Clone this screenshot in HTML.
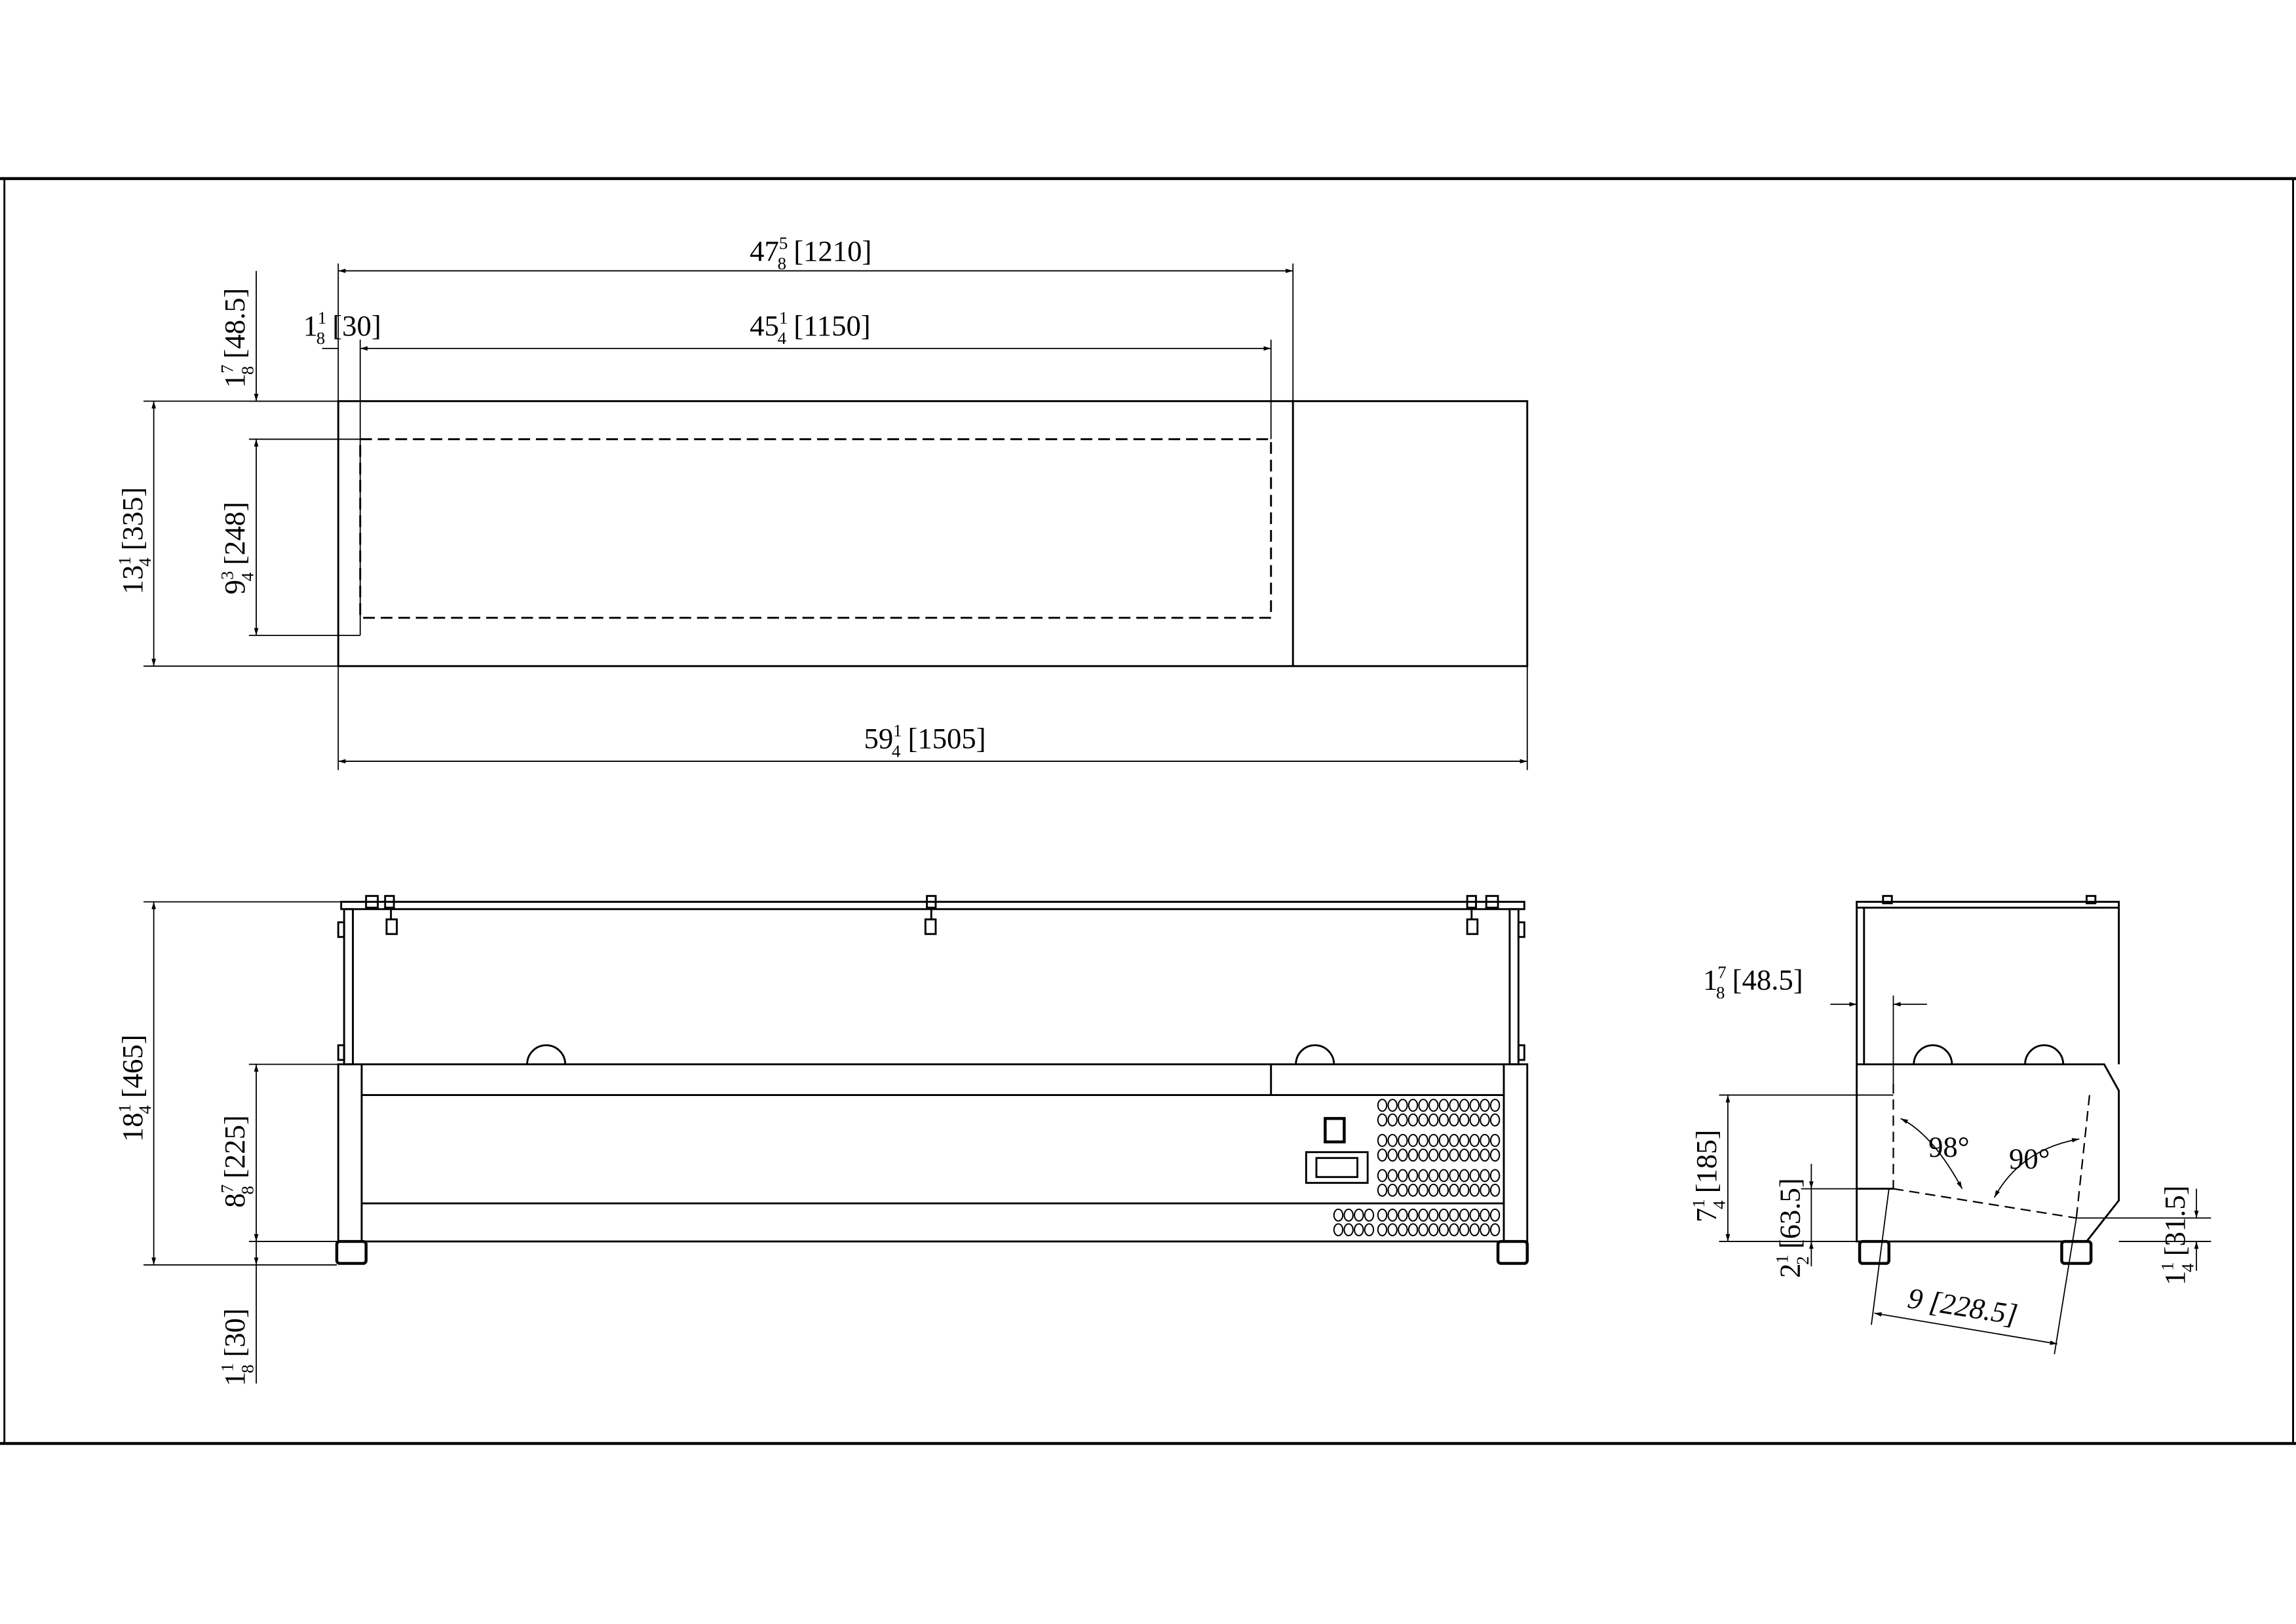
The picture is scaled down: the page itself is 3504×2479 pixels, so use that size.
<!DOCTYPE html>
<html><head><meta charset="utf-8"><style>
html,body{margin:0;padding:0;background:#fff}
svg{display:block}
text{font-family:"Liberation Sans Narrow","Liberation Serif",serif;fill:#000}
</style></head><body>
<svg width="3504" height="2479" viewBox="0 0 1568 1109.3" xmlns="http://www.w3.org/2000/svg">
<defs>
<marker id="a" viewBox="0 0 10 10" refX="10" refY="5" markerWidth="9" markerHeight="5" orient="auto-start-reverse" markerUnits="userSpaceOnUse"><path d="M0,2 L10,5 L0,8 z" fill="#000"/></marker>
</defs>
<g stroke="#000" fill="none" stroke-width="1.3">
<line x1="0" y1="122" x2="1568" y2="122" stroke-width="2"/>
<line x1="0" y1="986" x2="1568" y2="986" stroke-width="2"/>
<line x1="3" y1="122" x2="3" y2="986"/>
<line x1="1566" y1="122" x2="1566" y2="986"/>

<rect x="231" y="274" width="812" height="181"/>
<line x1="883" y1="274" x2="883" y2="455"/>
<rect x="246" y="300" width="622" height="122" stroke-dasharray="8,4"/>
<g stroke-width="0.8">
<line x1="231" y1="180" x2="231" y2="274"/><line x1="883" y1="180" x2="883" y2="274"/>
<line x1="231" y1="185" x2="883" y2="185" marker-start="url(#a)" marker-end="url(#a)"/>
<line x1="246" y1="232" x2="246" y2="434"/><line x1="868" y1="232" x2="868" y2="300"/>
<line x1="246" y1="238" x2="868" y2="238" marker-start="url(#a)" marker-end="url(#a)"/>
<line x1="220" y1="238" x2="231" y2="238"/>
<line x1="231" y1="455" x2="231" y2="526"/><line x1="1043" y1="455" x2="1043" y2="526"/>
<line x1="231" y1="520" x2="1043" y2="520" marker-start="url(#a)" marker-end="url(#a)"/>
<line x1="98" y1="274" x2="231" y2="274"/><line x1="98" y1="455" x2="231" y2="455"/>
<line x1="105" y1="274" x2="105" y2="455" marker-start="url(#a)" marker-end="url(#a)"/>
<line x1="170" y1="300" x2="246" y2="300"/><line x1="170" y1="434" x2="246" y2="434"/>
<line x1="175" y1="300" x2="175" y2="434" marker-start="url(#a)" marker-end="url(#a)"/>
<line x1="175" y1="185" x2="175" y2="274" marker-end="url(#a)"/>
<line x1="170" y1="274" x2="231" y2="274"/>
</g>

<rect x="233" y="616" width="808" height="5"/>
<rect x="235" y="621" width="6" height="106"/><rect x="1031" y="621" width="6" height="106"/>
<rect x="231" y="630" width="4" height="10"/><rect x="1037" y="630" width="4" height="10"/>
<rect x="231" y="714" width="4" height="10"/><rect x="1037" y="714" width="4" height="10"/>
<rect x="250" y="612" width="8" height="8"/><rect x="263" y="612" width="6" height="8"/><rect x="264" y="628" width="7" height="10"/>
<rect x="1002" y="612" width="6" height="8"/><rect x="1015" y="612" width="8" height="8"/><rect x="1002" y="628" width="7" height="10"/>
<rect x="633" y="612" width="6" height="8"/><rect x="632" y="628" width="7" height="10"/>
<line x1="636" y1="620" x2="636" y2="628"/><line x1="267" y1="620" x2="267" y2="628"/><line x1="1005" y1="620" x2="1005" y2="628"/>
<rect x="231" y="727" width="812" height="121"/>
<line x1="247" y1="727" x2="247" y2="848"/><line x1="1027" y1="727" x2="1027" y2="848"/>
<line x1="247" y1="748" x2="1027" y2="748"/><line x1="868" y1="727" x2="868" y2="748"/>
<line x1="247" y1="822" x2="1027" y2="822"/>
<path d="M360,727 A13,13 0 0 1 386,727"/><path d="M885,727 A13,13 0 0 1 911,727"/>
<rect x="230" y="848" width="20" height="15" rx="2" stroke-width="2"/>
<rect x="1023" y="848" width="20" height="15" rx="2" stroke-width="2"/>
<rect x="905" y="764" width="13" height="16" stroke-width="2"/>
<rect x="892" y="787" width="42" height="21"/><rect x="899" y="791" width="28" height="13"/>
<g stroke-width="0.8">
<line x1="98" y1="616" x2="233" y2="616"/><line x1="98" y1="864" x2="230" y2="864"/>
<line x1="105" y1="616" x2="105" y2="864" marker-start="url(#a)" marker-end="url(#a)"/>
<line x1="170" y1="727" x2="231" y2="727"/><line x1="170" y1="848" x2="231" y2="848"/>
<line x1="175" y1="727" x2="175" y2="848" marker-start="url(#a)" marker-end="url(#a)"/>
<line x1="175" y1="864" x2="175" y2="945"/>
<line x1="175" y1="848" x2="175" y2="864" marker-end="url(#a)"/>
</g>

<rect x="1268" y="616" width="179" height="4"/>
<line x1="1273" y1="620" x2="1273" y2="727"/><line x1="1268" y1="620" x2="1268" y2="727"/>
<line x1="1447" y1="620" x2="1447" y2="727"/>
<rect x="1286" y="612" width="6" height="5"/><rect x="1425" y="612" width="6" height="5"/>
<path d="M1268,727 L1437,727 L1447,745 L1447,820 L1425,848 L1268,848 Z"/>
<line x1="1268" y1="812" x2="1293" y2="812"/>
<path d="M1307,727 A13,13 0 0 1 1333,727"/><path d="M1383,727 A13,13 0 0 1 1409,727"/>
<rect x="1270" y="848" width="20" height="15" rx="2" stroke-width="2"/>
<rect x="1408" y="848" width="20" height="15" rx="2" stroke-width="2"/>
<g stroke-dasharray="7,4" stroke-width="1">
<line x1="1293" y1="740" x2="1293" y2="812"/>
<line x1="1293" y1="812" x2="1418" y2="832"/>
<line x1="1427" y1="748" x2="1418" y2="832"/>
</g>
<g stroke-width="0.8">
<path d="M1298,764 Q1320,775 1340,812" marker-end="url(#a)" marker-start="url(#a)"/>
<path d="M1362,818 Q1380,785 1420,778" marker-end="url(#a)" marker-start="url(#a)"/>
<line x1="1174" y1="748" x2="1293" y2="748"/><line x1="1174" y1="848" x2="1268" y2="848"/>
<line x1="1180" y1="748" x2="1180" y2="848" marker-start="url(#a)" marker-end="url(#a)"/>
<line x1="1230" y1="812" x2="1268" y2="812"/>
<line x1="1237" y1="795" x2="1237" y2="812" marker-end="url(#a)"/>
<line x1="1237" y1="865" x2="1237" y2="848" marker-end="url(#a)"/>
<line x1="1237" y1="812" x2="1237" y2="848"/>
<line x1="1418" y1="832" x2="1510" y2="832"/><line x1="1447" y1="848" x2="1510" y2="848"/>
<line x1="1500" y1="812" x2="1500" y2="832" marker-end="url(#a)"/>
<line x1="1500" y1="868" x2="1500" y2="848" marker-end="url(#a)"/>
<line x1="1290" y1="812" x2="1278" y2="905"/><line x1="1418" y1="832" x2="1403" y2="925"/>
<line x1="1280" y1="897" x2="1405" y2="918" marker-start="url(#a)" marker-end="url(#a)"/>
<line x1="1268" y1="680" x2="1268" y2="727"/><line x1="1293" y1="680" x2="1293" y2="740"/>
<line x1="1250" y1="686" x2="1268" y2="686" marker-end="url(#a)"/>
<line x1="1316" y1="686" x2="1293" y2="686" marker-end="url(#a)"/>
</g>
</g>
<g fill="none" stroke="#000" stroke-width="0.9">
<g id="vr">
<ellipse cx="944" cy="755" rx="3" ry="4"/><ellipse cx="951" cy="755" rx="3" ry="4"/><ellipse cx="958" cy="755" rx="3" ry="4"/><ellipse cx="965" cy="755" rx="3" ry="4"/><ellipse cx="972" cy="755" rx="3" ry="4"/><ellipse cx="979" cy="755" rx="3" ry="4"/><ellipse cx="986" cy="755" rx="3" ry="4"/><ellipse cx="993" cy="755" rx="3" ry="4"/><ellipse cx="1000" cy="755" rx="3" ry="4"/><ellipse cx="1007" cy="755" rx="3" ry="4"/><ellipse cx="1014" cy="755" rx="3" ry="4"/><ellipse cx="1021" cy="755" rx="3" ry="4"/>
</g>
<use href="#vr" y="10"/><use href="#vr" y="24"/><use href="#vr" y="34"/><use href="#vr" y="48"/><use href="#vr" y="58"/>
<g id="br">
<ellipse cx="914" cy="830" rx="3" ry="4"/><ellipse cx="921" cy="830" rx="3" ry="4"/><ellipse cx="928" cy="830" rx="3" ry="4"/><ellipse cx="935" cy="830" rx="3" ry="4"/>
</g>
<use href="#vr" y="75"/><use href="#br" y="10"/><use href="#vr" y="85"/>
</g>
<g font-size="20">
<text x="512" y="178">47<tspan font-size="12" dy="-8">5</tspan><tspan font-size="12" dx="-7" dy="14">8</tspan><tspan dy="-6"> [1210]</tspan></text>
<text x="512" y="229">45<tspan font-size="12" dy="-8">1</tspan><tspan font-size="12" dx="-7" dy="14">4</tspan><tspan dy="-6"> [1150]</tspan></text>
<text x="207" y="229">1<tspan font-size="12" dy="-8">1</tspan><tspan font-size="12" dx="-7" dy="14">8</tspan><tspan dy="-6"> [30]</tspan></text>
<text x="590" y="511">59<tspan font-size="12" dy="-8">1</tspan><tspan font-size="12" dx="-7" dy="14">4</tspan><tspan dy="-6"> [1505]</tspan></text>
<text transform="translate(97,406) rotate(-90)">13<tspan font-size="12" dy="-8">1</tspan><tspan font-size="12" dx="-7" dy="14">4</tspan><tspan dy="-6"> [335]</tspan></text>
<text transform="translate(167,406) rotate(-90)">9<tspan font-size="12" dy="-8">3</tspan><tspan font-size="12" dx="-7" dy="14">4</tspan><tspan dy="-6"> [248]</tspan></text>
<text transform="translate(167,265) rotate(-90)">1<tspan font-size="12" dy="-8">7</tspan><tspan font-size="12" dx="-7" dy="14">8</tspan><tspan dy="-6"> [48.5]</tspan></text>
<text transform="translate(97,780) rotate(-90)">18<tspan font-size="12" dy="-8">1</tspan><tspan font-size="12" dx="-7" dy="14">4</tspan><tspan dy="-6"> [465]</tspan></text>
<text transform="translate(167,825) rotate(-90)">8<tspan font-size="12" dy="-8">7</tspan><tspan font-size="12" dx="-7" dy="14">8</tspan><tspan dy="-6"> [225]</tspan></text>
<text transform="translate(167,947) rotate(-90)">1<tspan font-size="12" dy="-8">1</tspan><tspan font-size="12" dx="-7" dy="14">8</tspan><tspan dy="-6"> [30]</tspan></text>
<text x="1163" y="676">1<tspan font-size="12" dy="-8">7</tspan><tspan font-size="12" dx="-7" dy="14">8</tspan><tspan dy="-6"> [48.5]</tspan></text>
<text transform="translate(1172,835) rotate(-90)">7<tspan font-size="12" dy="-8">1</tspan><tspan font-size="12" dx="-7" dy="14">4</tspan><tspan dy="-6"> [185]</tspan></text>
<text transform="translate(1229,873) rotate(-90)">2<tspan font-size="12" dy="-8">1</tspan><tspan font-size="12" dx="-7" dy="14">2</tspan><tspan dy="-6"> [63.5]</tspan></text>
<text transform="translate(1492,878) rotate(-90)">1<tspan font-size="12" dy="-8">1</tspan><tspan font-size="12" dx="-7" dy="14">4</tspan><tspan dy="-6"> [31.5]</tspan></text>
<text x="1317" y="790">98°</text>
<text x="1372" y="798">90°</text>
<text transform="translate(1302,893) rotate(9)" font-style="italic">9  [228.5]</text>
</g>
</svg>
</body></html>
